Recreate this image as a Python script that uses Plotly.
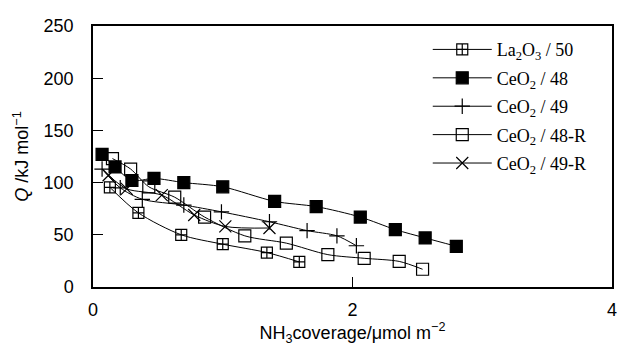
import plotly.graph_objects as go

# ---- data ----
la2o3_50_x = [0.13, 0.35, 0.68, 1.00, 1.34, 1.59]
la2o3_50_y = [95.5, 71, 50, 41, 33, 24]

ceo2_48_x = [0.07, 0.17, 0.30, 0.47, 0.70, 1.00, 1.40, 1.72, 2.06, 2.33, 2.56, 2.80]
ceo2_48_y = [127, 115, 102, 104, 100, 96, 82, 77, 67, 55, 47, 39]

ceo2_49_x = [0.07, 0.21, 0.38, 0.70, 0.99, 1.36, 1.65, 1.88, 2.03]
ceo2_49_y = [113, 95, 84, 78.5, 72, 62.5, 54, 49, 39.5]

ceo2_48r_x = [0.15, 0.29, 0.43, 0.63, 0.86, 1.17, 1.49, 1.81, 2.09, 2.36, 2.54]
ceo2_48r_y = [123, 113, 96, 86, 67, 49, 42, 31, 27.5, 24.5, 17]

ceo2_49r_x = [0.12, 0.26, 0.53, 0.78, 1.02, 1.36]
ceo2_49r_y = [107, 94, 88, 69, 58, 56.5]

names = ["La<sub>2</sub>O<sub>3</sub> / 50", "CeO<sub>2</sub> / 48", "CeO<sub>2</sub> / 49",
         "CeO<sub>2</sub> / 48-R", "CeO<sub>2</sub> / 49-R"]
xs = [la2o3_50_x, ceo2_48_x, ceo2_49_x, ceo2_48r_x, ceo2_49r_x]
ys = [la2o3_50_y, ceo2_48_y, ceo2_49_y, ceo2_48r_y, ceo2_49r_y]
symbols = ["square-cross-open", "square", "cross-thin-open", "square-open", "x-thin-open"]
sizes = [11, 12, 11, 12, 12]

x_ticks = [0, 2, 4]
y_ticks = [0, 50, 100, 150, 200, 250]

fig = go.Figure()
for i, (n, x, y, s, sz) in enumerate(zip(names, xs, ys, symbols, sizes)):
    fig.add_trace(go.Scatter(
        x=x, y=y, name=n, mode="lines+markers",
        legendgroup=f"g{i}",
        line=dict(color="black", width=1, shape="spline", smoothing=0.8),
        marker=dict(symbol=s, size=sz, color="black",
                    line=dict(color="black", width=1.2)),
    ))

fig.update_layout(
    width=621, height=346,
    margin=dict(l=93, r=4, t=26, b=59),
    plot_bgcolor="white", paper_bgcolor="white",
    font=dict(family="Liberation Sans, Arial, sans-serif", size=18, color="black"),
    showlegend=True,
    legend=dict(
        x=0.645, y=0.98, xanchor="left", yanchor="top",
        bgcolor="rgba(0,0,0,0)", borderwidth=0,
        font=dict(family="Liberation Serif, Times New Roman, serif", size=18, color="black"),
        tracegroupgap=2, itemwidth=59,
    ),
    xaxis=dict(
        range=[0, 4], tickvals=x_ticks, ticktext=[str(v) for v in x_ticks],
        ticks="inside", ticklen=10, tickcolor="black", tickwidth=1,
        showline=True, linecolor="black", linewidth=1.5, mirror=True,
        showgrid=False, zeroline=False, ticklabelstandoff=6,
        title=dict(text="NH<sub>3</sub>coverage/μmol m<sup>−2</sup>", standoff=4,
                   font=dict(size=18)),
    ),
    yaxis=dict(
        range=[0, 250], tickvals=y_ticks, ticktext=[str(v) for v in y_ticks],
        ticks="inside", ticklen=10, tickcolor="black", tickwidth=1,
        showline=True, linecolor="black", linewidth=1.5, mirror=True,
        showgrid=False, zeroline=False, ticklabelstandoff=14,
        title=dict(text="<i>Q</i> /kJ mol<sup>−1</sup>", standoff=10,
                   font=dict(size=18)),
    ),
)

fig.write_html("out.html",
               config={"displayModeBar": False},
               post_script="document.body.style.margin='0';document.body.style.overflow='hidden';")
